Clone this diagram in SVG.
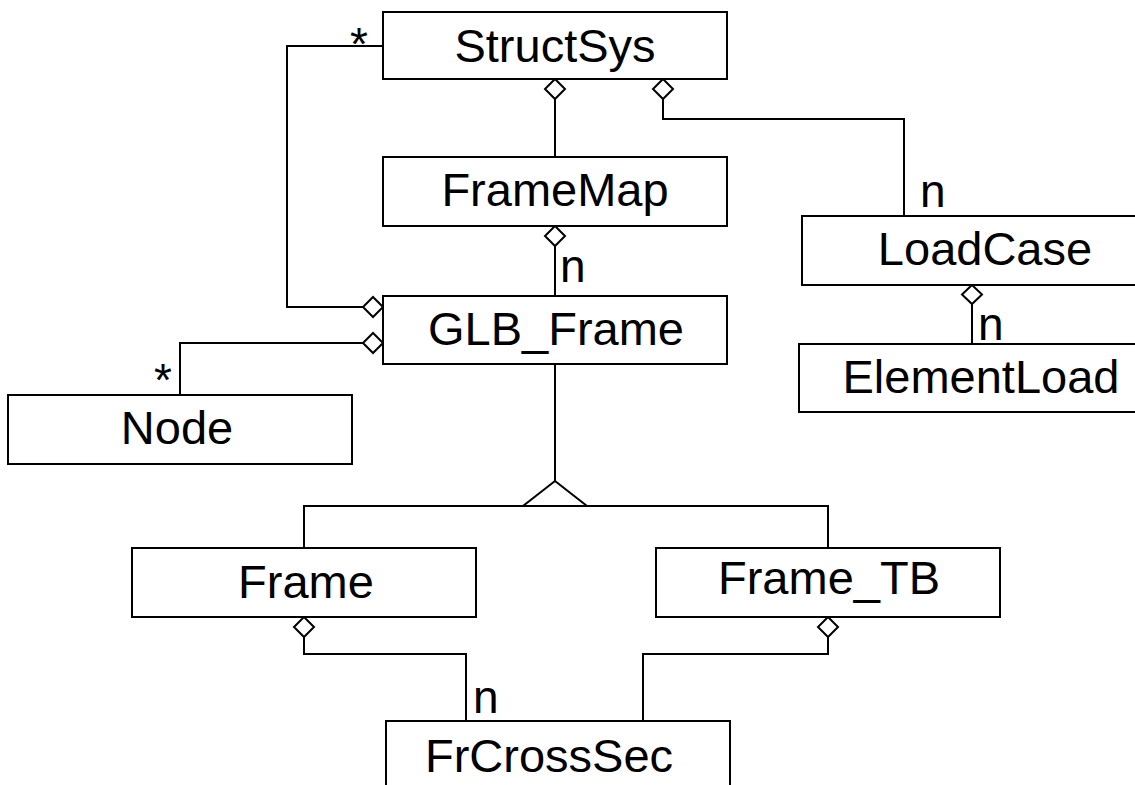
<svg xmlns="http://www.w3.org/2000/svg" width="1135" height="785" viewBox="0 0 1135 785">
  <defs>
    <style>
      .box { fill: #ffffff; stroke: #000000; stroke-width: 2; }
      .lbl { font-family: "Liberation Sans", Arial, sans-serif; font-size: 47px; fill: #000000; text-anchor: middle; }
      .mult { font-family: "Liberation Sans", Arial, sans-serif; font-size: 46px; fill: #000000; }
      .wire { fill: none; stroke: #000000; stroke-width: 2; }
      .agg { fill: #ffffff; stroke: #000000; stroke-width: 2; }
    </style>
  </defs>
  <rect width="1135" height="785" fill="#ffffff"/>

  <!-- connectors -->
  <g id="connectors">
    <!-- StructSys * ... GLB_Frame -->
    <polyline class="wire" points="383,46 287,46 287,307 363,307"/>
    <polygon class="agg" points="383,307 373,297 363,307 373,317"/>
    <!-- GLB_Frame -> Node -->
    <polyline class="wire" points="363,343 180,343 180,395"/>
    <polygon class="agg" points="383,343 373,333 363,343 373,353"/>
    <!-- StructSys -> FrameMap -->
    <polygon class="agg" points="555,79 565,89 555,99 545,89"/>
    <line class="wire" x1="555" y1="99" x2="555" y2="157"/>
    <!-- StructSys -> LoadCase -->
    <polygon class="agg" points="663,79 673,89 663,99 653,89"/>
    <polyline class="wire" points="663,99 663,119 904,119 904,216"/>
    <!-- FrameMap -> GLB_Frame -->
    <polygon class="agg" points="555,226 565,236 555,246 545,236"/>
    <line class="wire" x1="555" y1="246" x2="555" y2="296"/>
    <!-- LoadCase -> ElementLoad -->
    <polygon class="agg" points="972,285 982,294.5 972,304 962,294.5"/>
    <line class="wire" x1="972" y1="304" x2="972" y2="344"/>
    <!-- generalization: Frame, Frame_TB -> GLB_Frame -->
    <line class="wire" x1="555" y1="364" x2="555" y2="481"/>
    <polygon class="agg" points="555,481 523,506 587,506"/>
    <polyline class="wire" points="304,548 304,506 828,506 828,548"/>
    <!-- Frame -> FrCrossSec -->
    <polygon class="agg" points="304,617 314,627 304,637 294,627"/>
    <polyline class="wire" points="304,637 304,654 466,654 466,721"/>
    <!-- Frame_TB -> FrCrossSec -->
    <polygon class="agg" points="828,617 838,627 828,637 818,627"/>
    <polyline class="wire" points="828,637 828,654 643,654 643,721"/>
    <!-- multiplicities -->
    <text class="mult" x="350" y="60">*</text>
    <text class="mult" x="154" y="396">*</text>
    <text class="mult" x="560" y="282">n</text>
    <text class="mult" x="920" y="207">n</text>
    <text class="mult" x="978" y="340">n</text>
    <text class="mult" x="473" y="713">n</text>
  </g>

  <g id="StructSys">
    <rect class="box" x="383" y="12" width="344" height="67"/>
    <text class="lbl" x="555" y="62">StructSys</text>
  </g>
  <g id="FrameMap">
    <rect class="box" x="383" y="157" width="344" height="69"/>
    <text class="lbl" x="555" y="206">FrameMap</text>
  </g>
  <g id="GLB_Frame">
    <rect class="box" x="383" y="296" width="344" height="68"/>
    <text class="lbl" x="556" y="345">GLB_Frame</text>
  </g>
  <g id="Node">
    <rect class="box" x="8" y="395" width="344" height="69"/>
    <text class="lbl" x="177" y="444">Node</text>
  </g>
  <g id="LoadCase">
    <rect class="box" x="802" y="216" width="380" height="69"/>
    <text class="lbl" x="985" y="265">LoadCase</text>
  </g>
  <g id="ElementLoad">
    <rect class="box" x="799" y="344" width="380" height="68"/>
    <text class="lbl" x="981" y="393">ElementLoad</text>
  </g>
  <g id="Frame">
    <rect class="box" x="132" y="548" width="344" height="69"/>
    <text class="lbl" x="306" y="598">Frame</text>
  </g>
  <g id="Frame_TB">
    <rect class="box" x="656" y="548" width="344" height="69"/>
    <text class="lbl" x="829" y="594">Frame_TB</text>
  </g>
  <g id="FrCrossSec">
    <rect class="box" x="386" y="721" width="344" height="80"/>
    <text class="lbl" x="549" y="772">FrCrossSec</text>
  </g>
</svg>
